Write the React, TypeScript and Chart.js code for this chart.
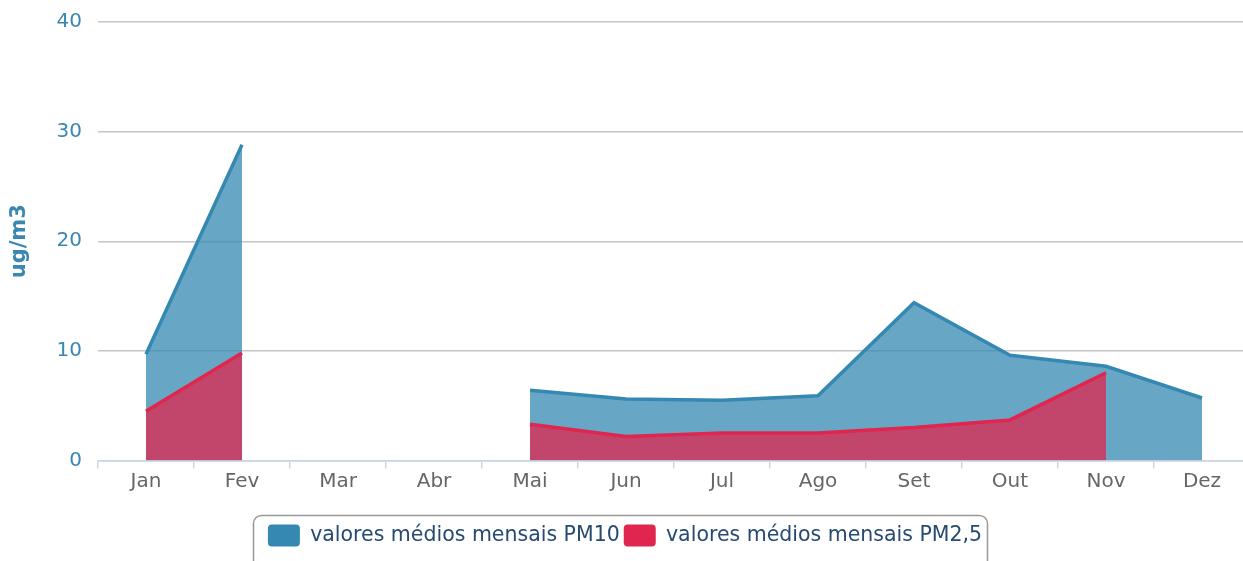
import React, { useEffect, useRef } from "react";
import { Chart, registerables } from "chart.js";

Chart.register(...registerables);

const months = ["Jan", "Fev", "Mar", "Abr", "Mai", "Jun", "Jul", "Ago", "Set", "Out", "Nov", "Dez"];
const pm10: (number | null)[] = [9.7, 28.8, null, null, 6.4, 5.6, 5.5, 5.9, 14.4, 9.6, 8.6, 5.7];
const pm25: (number | null)[] = [4.5, 9.8, null, null, 3.3, 2.2, 2.5, 2.5, 3.0, 3.7, 8.0, null];
const yTicks = [0, 10, 20, 30, 40];
const seriesNames = ["valores médios mensais PM10", "valores médios mensais PM2,5"];

const FONT = "'DejaVu Sans', Verdana, sans-serif";
const CANVAS_W = 1250;
const CANVAS_H = 561;

const legendBorder = {
  id: "legendBorder",
  afterDraw(chart: any) {
    const lg = chart.legend;
    if (!lg || !lg.legendHitBoxes || !lg.legendHitBoxes.length) return;
    const hb = lg.legendHitBoxes;
    const first = hb[0];
    const last = hb[hb.length - 1];
    const left = Math.round(first.left - 15) + 0.5;
    const right = Math.round(last.left + last.width + 5) + 0.5;
    const top = Math.round(first.top - 10) + 0.5;
    const bottom = chart.height + 10;
    const ctx = chart.ctx;
    ctx.save();
    ctx.strokeStyle = "#999999";
    ctx.lineWidth = 1.5;
    ctx.beginPath();
    const r = 8;
    ctx.moveTo(left, bottom);
    ctx.lineTo(left, top + r);
    ctx.arcTo(left, top, left + r, top, r);
    ctx.lineTo(right - r, top);
    ctx.arcTo(right, top, right, top + r, r);
    ctx.lineTo(right, bottom);
    ctx.stroke();
    ctx.restore();
  },
};

export default function App() {
  const ref = useRef<HTMLCanvasElement | null>(null);
  useEffect(() => {
    document.body.style.margin = "0";
    if (!ref.current) return;
    const chart = new Chart(ref.current, {
      type: "line",
      data: {
        labels: months,
        datasets: [
          {
            label: seriesNames[0],
            data: pm10,
            borderColor: "#3588b2",
            backgroundColor: "rgba(53,136,178,0.75)",
            borderWidth: 3.5,
            pointRadius: 0,
            fill: "origin",
            tension: 0,
            spanGaps: false,
            order: 2,
          },
          {
            label: seriesNames[1],
            data: pm25,
            borderColor: "#e0264f",
            backgroundColor: "rgba(224,38,79,0.75)",
            borderWidth: 3.5,
            pointRadius: 0,
            fill: "origin",
            tension: 0,
            spanGaps: false,
            order: 1,
          },
        ],
      },
      options: {
        animation: false,
        responsive: false,
        maintainAspectRatio: false,
        layout: { padding: { left: 0, right: 0, top: 0, bottom: 4.5 } },
        plugins: {
          tooltip: { enabled: false },
          legend: {
            position: "bottom",
            labels: {
              color: "#274a70",
              font: { family: FONT, size: 20.5 },
              boxWidth: 32,
              boxHeight: 22,
              padding: 4,
              useBorderRadius: true,
              borderRadius: 4,
              generateLabels(chart: any) {
                return chart.data.datasets.map((ds: any, i: number) => ({
                  text: ds.label,
                  fillStyle: ds.borderColor,
                  strokeStyle: ds.borderColor,
                  fontColor: "#274a70",
                  lineWidth: 0,
                  hidden: false,
                  datasetIndex: i,
                  borderRadius: 4,
                }));
              },
            },
          },
        },
        scales: {
          x: {
            type: "category",
            offset: true,
            grid: {
              display: true,
              offset: true,
              drawOnChartArea: false,
              drawTicks: true,
              tickLength: 8,
              color: "#ccd6eb",
              lineWidth: 1.5,
            },
            border: { display: true, color: "#ccd6eb", width: 1.5 },
            ticks: {
              color: "#666666",
              font: { family: FONT, size: 20 },
              padding: 1,
              maxRotation: 0,
              autoSkip: false,
            },
            afterFit(scale: any) {
              scale.height = 60;
              scale.paddingLeft = 0;
              scale.paddingRight = 0;
            },
          },
          y: {
            min: 0,
            max: 40,
            afterBuildTicks(scale: any) {
              scale.ticks = yTicks.map((v) => ({ value: v }));
            },
            grid: {
              color: "#c6c6c6",
              lineWidth: 1.5,
              drawTicks: false,
            },
            border: { display: false },
            ticks: {
              color: "#3a87b0",
              font: { family: FONT, size: 20 },
              padding: 16,
            },
            title: {
              display: true,
              text: "ug/m3",
              color: "#3a87b0",
              font: { family: FONT, size: 21, weight: "bold" },
              padding: { top: 7, bottom: 0 },
            },
            afterFit(scale: any) {
              scale.width = 98;
              scale.paddingTop = 22;
              scale.paddingBottom = 0;
            },
          },
        },
      },
      plugins: [legendBorder],
    } as any);
    return () => chart.destroy();
  }, []);
  return (
    <div style={{ width: 1243, height: CANVAS_H, overflow: "hidden" }}>
      <canvas
        ref={ref}
        width={CANVAS_W}
        height={CANVAS_H}
        style={{ width: CANVAS_W, height: CANVAS_H, display: "block" }}
      />
    </div>
  );
}
